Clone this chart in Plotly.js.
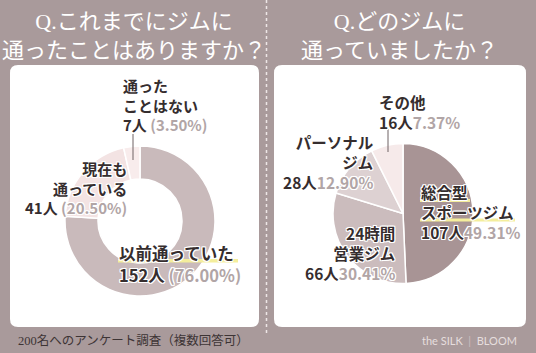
<!DOCTYPE html>
<html><head><meta charset="utf-8">
<script src="https://cdn.plot.ly/plotly-3.0.1.min.js"></script>
<style>html,body{margin:0;padding:0;background:#a99a9b;}#chart{width:536px;height:353px;}</style>
</head><body><div id="chart"></div>
<script>
// ---- data ----
const q1Title = 'Q.これまでにジムに<br>通ったことはありますか？';
const q1Labels = ['以前通っていた', '現在も通っている', '通ったことはない'];
const q1LabelLines = ['以前通っていた', '現在も<br>通っている', '通った<br>ことはない'];
const q1Counts = [152, 41, 7];
const q1Pct = ['76.00%', '20.50%', '3.50%'];

const q2Title = 'Q.どのジムに<br>通っていましたか？';
const q2Labels = ['総合型スポーツジム', '24時間営業ジム', 'パーソナルジム', 'その他'];
const q2LabelLines = ['総合型<br>スポーツジム', '24時間<br>営業ジム', 'パーソナル<br>ジム', 'その他'];
const q2Counts = [107, 66, 28, 16];
const q2Pct = ['49.31%', '30.41%', '12.90%', '7.37%'];

const footNote = '200名へのアンケート調査（複数回答可）';
const brand = 'the SILK  <span style="color:#cdbfc0">|</span>  BLOOM';

// ---- layout helpers ----
const W = 536, H = 353;
const X = p => p / W;
const Y = p => 1 - p / H;
const BG = '#a99a9b';
const DARK = '#352d2e';
const GREY = '#b1a5a6';
const HALO = '1px 1px 0 #fff, -1px -1px 0 #fff, 1px -1px 0 #fff, -1px 1px 0 #fff, 0 1px 0 #fff, 0 -1px 0 #fff, 1px 0 0 #fff, -1px 0 0 #fff';
const JP = '"Noto Sans CJK JP", "Noto Sans", sans-serif';
const TITLEF = '"Liberation Serif", "Noto Sans CJK JP", serif';

function roundRect(x0, y0, x1, y1, r) {
  const rx = r / W, ry = r / H;
  const a = X(x0), b = X(x1), t = Y(y0), u = Y(y1);
  return `M ${a + rx} ${t} L ${b - rx} ${t} Q ${b} ${t} ${b} ${t - ry} L ${b} ${u + ry} Q ${b} ${u} ${b - rx} ${u} L ${a + rx} ${u} Q ${a} ${u} ${a} ${u + ry} L ${a} ${t - ry} Q ${a} ${t} ${a + rx} ${t} Z`;
}

function pieDomain(cx, cy, r) {
  return { x: [X(cx - r), X(cx + r)], y: [Y(cy + r), Y(cy - r)] };
}

const traces = [
  {
    type: 'pie', values: q1Counts, labels: q1Labels, hole: 0.56, sort: false,
    direction: 'clockwise', rotation: 0, textinfo: 'none', hoverinfo: 'skip',
    marker: { colors: ['#c9babb', '#f3e3e3', '#f8ecec'], line: { color: '#ffffff', width: 1.5 } },
    domain: pieDomain(140, 221, 75)
  },
  {
    type: 'pie', values: q2Counts, labels: q2Labels, sort: false,
    direction: 'clockwise', rotation: 0, textinfo: 'none', hoverinfo: 'skip',
    marker: { colors: ['#a89495', '#cbbcbd', '#ddd1d2', '#f6eaea'], line: { color: '#ffffff', width: 1.5 } },
    domain: pieDomain(403, 213.5, 70)
  }
];

function valText(count, pct, paren) {
  const p = paren ? ' (' + pct + ')' : pct;
  return `${count}人<span style="color:${GREY}">${p}</span>`;
}
function lab(lines, count, pct, paren) {
  return `${lines}<br>${valText(count, pct, paren)}`;
}

const labFont = (s) => ({ family: JP, size: s, color: DARK, weight: 700, shadow: HALO });

const annotations = [
  // titles
  { text: q1Title, x: X(134), y: Y(36), xref: 'paper', yref: 'paper', xanchor: 'center', yanchor: 'middle', showarrow: false,
    font: { family: TITLEF, size: 22, color: '#ffffff' } },
  { text: q2Title, x: X(399), y: Y(36), xref: 'paper', yref: 'paper', xanchor: 'center', yanchor: 'middle', showarrow: false,
    font: { family: TITLEF, size: 22, color: '#ffffff' } },
  // q1 labels
  { text: q1LabelLines[0], x: X(117), y: Y(253), xref: 'paper', yref: 'paper',
    xanchor: 'left', yanchor: 'middle', align: 'left', showarrow: false, font: labFont(16.5) },
  { text: valText(q1Counts[0], q1Pct[0], true), x: X(117), y: Y(275), xref: 'paper', yref: 'paper',
    xanchor: 'left', yanchor: 'middle', align: 'left', showarrow: false, font: labFont(16.5) },
  { text: lab(q1LabelLines[1], q1Counts[1], q1Pct[1], true), x: X(129), y: Y(188), xref: 'paper', yref: 'paper',
    xanchor: 'right', yanchor: 'middle', align: 'right', showarrow: false, font: labFont(15) },
  { text: lab(q1LabelLines[2], q1Counts[2], q1Pct[2], true), x: X(121), y: Y(105), xref: 'paper', yref: 'paper',
    xanchor: 'left', yanchor: 'middle', align: 'left', showarrow: false, font: labFont(15) },
  // q2 labels
  { text: lab(q2LabelLines[0], q2Counts[0], q2Pct[0], false), x: X(419), y: Y(212), xref: 'paper', yref: 'paper',
    xanchor: 'left', yanchor: 'middle', align: 'left', showarrow: false, font: labFont(15.5) },
  { text: lab(q2LabelLines[1], q2Counts[1], q2Pct[1], false), x: X(397), y: Y(253), xref: 'paper', yref: 'paper',
    xanchor: 'right', yanchor: 'middle', align: 'right', showarrow: false, font: labFont(15.5) },
  { text: lab(q2LabelLines[2], q2Counts[2], q2Pct[2], false), x: X(376), y: Y(162), xref: 'paper', yref: 'paper',
    xanchor: 'right', yanchor: 'middle', align: 'right', showarrow: false, font: labFont(15.5) },
  { text: lab(q2LabelLines[3], q2Counts[3], q2Pct[3], false), x: X(377), y: Y(112), xref: 'paper', yref: 'paper',
    xanchor: 'left', yanchor: 'middle', align: 'left', showarrow: false, font: labFont(15.5) },
  // footer
  { text: footNote, x: X(16), y: Y(340), xref: 'paper', yref: 'paper', xanchor: 'left', yanchor: 'middle', showarrow: false,
    font: { family: TITLEF, size: 12.5, color: '#3d3435' } },
  { text: brand, x: X(519), y: Y(340), xref: 'paper', yref: 'paper', xanchor: 'right', yanchor: 'middle', showarrow: false,
    font: { family: 'Lato, "Open Sans", sans-serif', size: 11, color: '#e6dede' } }
];

const shapes = [
  { type: 'path', path: roundRect(10, 65, 259, 327, 8), xref: 'paper', yref: 'paper', fillcolor: '#ffffff', line: { width: 0 }, layer: 'below' },
  { type: 'path', path: roundRect(274, 65, 526, 327, 8), xref: 'paper', yref: 'paper', fillcolor: '#ffffff', line: { width: 0 }, layer: 'below' },
  { type: 'line', x0: X(266.5), x1: X(266.5), y0: Y(0), y1: Y(336), xref: 'paper', yref: 'paper', line: { color: '#eee6e6', width: 1.5, dash: 'dot' }, layer: 'below' },
  // yellow highlights
  { type: 'rect', x0: X(118), x1: X(238), y0: Y(262.5), y1: Y(259), xref: 'paper', yref: 'paper', fillcolor: '#f4ee9c', line: { width: 0 }, layer: 'above' },
  { type: 'rect', x0: X(420), x1: X(470), y0: Y(202), y1: Y(199), xref: 'paper', yref: 'paper', fillcolor: '#f4ee9c', line: { width: 0 }, layer: 'above' },
  { type: 'rect', x0: X(420), x1: X(515), y0: Y(221.5), y1: Y(218.5), xref: 'paper', yref: 'paper', fillcolor: '#f4ee9c', line: { width: 0 }, layer: 'above' },
  // leader lines
  { type: 'line', x0: X(133), x1: X(133), y0: Y(134), y1: Y(160), xref: 'paper', yref: 'paper', line: { color: '#6e6364', width: 1 }, layer: 'above' },
  { type: 'line', x0: X(388), x1: X(388), y0: Y(129), y1: Y(152), xref: 'paper', yref: 'paper', line: { color: '#6e6364', width: 1 }, layer: 'above' }
];

const layout = {
  width: W, height: H, margin: { l: 0, r: 0, t: 0, b: 0 },
  paper_bgcolor: BG, plot_bgcolor: BG, showlegend: false,
  annotations: annotations, shapes: shapes
};

Plotly.newPlot('chart', traces, layout, { displayModeBar: false, staticPlot: true });
</script>
</body></html>
